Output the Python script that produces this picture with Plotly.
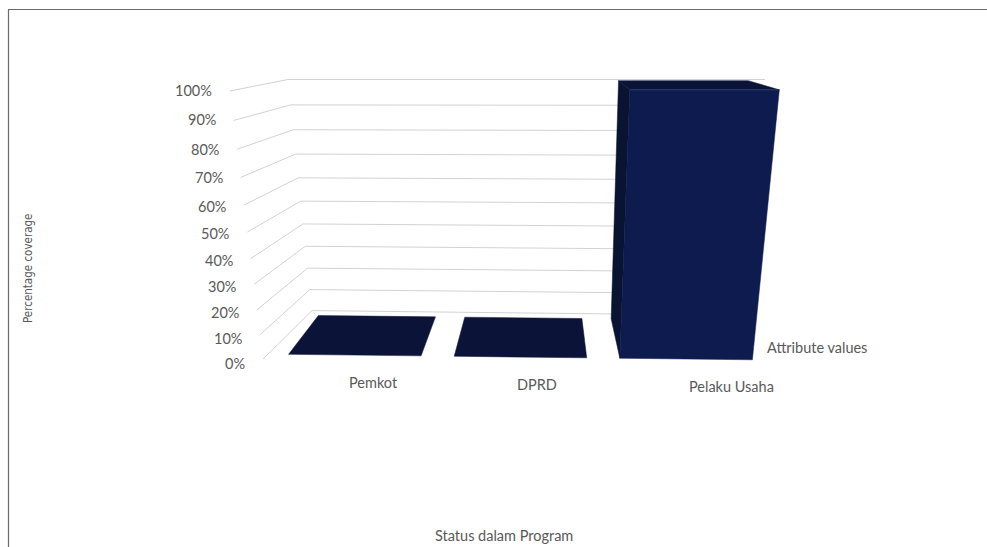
import plotly.graph_objects as go

# ---------------- data ----------------
categories = ["Pemkot", "DPRD", "Pelaku Usaha"]
values = [0, 0, 100]                      # percent coverage
tick_values = [0, 10, 20, 30, 40, 50, 60, 70, 80, 90, 100]
tick_labels = ["0%", "10%", "20%", "30%", "40%", "50%", "60%", "70%", "80%", "90%", "100%"]
series_name = "Attribute values"
x_title = "Status dalam Program"
y_title = "Percentage coverage"
y_max = 100

# ---------------- style / 3-D projection parameters ----------------
W, H = 987, 547
VPX = 545.0                    # depth vanishing x
BACK_L = (312.0, 288.0)        # back wall left edge x (floor, top)
BACK_R = (744.0, 765.0)        # back wall right edge x (floor, top)
BACK_Y = (313.0, 79.5)         # back wall y (floor, top) at mid width
FRONT_Y = (362.0, 91.0)        # front plane y (floor, top) at mid width
SLANT_BACK, SLANT_FRONT = 4.8, 6.0
S_BAR = (1.167, 1.195)         # front/back magnification for bars
S_WALL = (1.21, 1.226)         # front/back magnification for side wall
CURVE = -0.1                   # perspective compression of value axis
SHIFT = -0.01
BAR_FRAC = 0.8
W_FRONT, W_BACK = 0.1, 0.9
LABEL_X = (306.9, 400.3, 139.5)  # category label placement along the front (quadratic in u)

GRID = "#d2d2d2"
TXT = "#595959"
FRONT_C = "#0e1b4e"
SIDE_C = "#091332"
TOP_C = "#0b1338"
EDGE_C = "#2c3c72"
FONT = "Lato, 'Open Sans', sans-serif"
LBL_SIZE = 14.5


def h(v):
    return v * (1 + CURVE) / (1 + CURVE * v)


def back_pt(u, v):
    t = h(v)
    xl = BACK_L[0] + (BACK_L[1] - BACK_L[0]) * t
    xr = BACK_R[0] + (BACK_R[1] - BACK_R[0]) * t
    y0 = BACK_Y[0] + SLANT_BACK * (u - 0.5)
    return xl + u * (xr - xl), y0 + (BACK_Y[1] - y0) * t


def front_pt(u, v, s=S_BAR):
    t = h(v)
    bx, _ = back_pt(u, v)
    sc = s[0] + (s[1] - s[0]) * t
    y0 = FRONT_Y[0] + SLANT_FRONT * (u - 0.5)
    return VPX + sc * (bx - VPX), y0 + (FRONT_Y[1] - y0) * t


def proj(u, w, v, s=S_BAR):
    bx, by = back_pt(u, v)
    fx, fy = front_pt(u, v, s)
    return w * bx + (1 - w) * fx, w * by + (1 - w) * fy


fig = go.Figure()


def add_line(pts, color=GRID, width=1):
    fig.add_trace(go.Scatter(x=[p[0] for p in pts], y=[p[1] for p in pts], mode="lines",
                             line=dict(color=color, width=width), hoverinfo="skip",
                             showlegend=False))


def add_poly(pts, color):
    xs = [p[0] for p in pts] + [pts[0][0]]
    ys = [p[1] for p in pts] + [pts[0][1]]
    fig.add_trace(go.Scatter(x=xs, y=ys, mode="lines", fill="toself", fillcolor=color,
                             line=dict(color=color, width=0.5), hoverinfo="skip",
                             showlegend=False))


# gridlines: back wall + left side wall
for tv in tick_values:
    v = tv / y_max
    add_line([back_pt(0, v), back_pt(1, v)])
    add_line([front_pt(0, v, S_WALL), back_pt(0, v)])

# bars
n = len(categories)
slot = 1.0 / n
for i, val in enumerate(values):
    c = (i + 0.5) * slot + SHIFT
    u0, u1 = c - BAR_FRAC * slot / 2, c + BAR_FRAC * slot / 2
    v = val / y_max
    if v > 0:
        if proj(u0, W_FRONT, 0)[0] > proj(u0, W_BACK, 0)[0]:
            add_poly([proj(u0, W_FRONT, 0), proj(u0, W_BACK, 0),
                      proj(u0, W_BACK, v), proj(u0, W_FRONT, v)], SIDE_C)
        if proj(u1, W_FRONT, 0)[0] < proj(u1, W_BACK, 0)[0]:
            add_poly([proj(u1, W_FRONT, 0), proj(u1, W_BACK, 0),
                      proj(u1, W_BACK, v), proj(u1, W_FRONT, v)], SIDE_C)
        add_poly([proj(u0, W_FRONT, 0), proj(u1, W_FRONT, 0),
                  proj(u1, W_FRONT, v), proj(u0, W_FRONT, v)], FRONT_C)
    add_poly([proj(u0, W_FRONT, v), proj(u1, W_FRONT, v),
              proj(u1, W_BACK, v), proj(u0, W_BACK, v)], TOP_C)
    if v > 0:
        add_line([proj(u0, W_FRONT, v), proj(u1, W_FRONT, v)], EDGE_C, 1)

annotations = []
# value-axis labels
for tv, lab in zip(tick_values, tick_labels):
    v = tv / y_max
    fx, fy = front_pt(0, v, S_WALL)
    annotations.append(dict(x=fx - 16, y=fy + 4 - 5 * v, text=lab, showarrow=False,
                            xanchor="right", yanchor="middle", xref="x", yref="y",
                            font=dict(family=FONT, size=LBL_SIZE, color=TXT)))
# category labels
for i, cat in enumerate(categories):
    c = (i + 0.5) * slot + SHIFT
    _, fy = front_pt(c, 0)
    lx = LABEL_X[0] + LABEL_X[1] * c + LABEL_X[2] * c * c
    annotations.append(dict(x=lx, y=fy + 22.5, text=cat, showarrow=False,
                            xanchor="center", yanchor="middle", xref="x", yref="y",
                            font=dict(family=FONT, size=LBL_SIZE, color=TXT)))
# series (depth) axis label
sx, sy = proj(1, 0.5, 0)
annotations.append(dict(x=sx + 4, y=sy + 7, text=series_name, showarrow=False,
                        xanchor="left", yanchor="middle", xref="x", yref="y",
                        font=dict(family=FONT, size=LBL_SIZE, color=TXT)))
# axis titles
annotations.append(dict(x=503.5, y=535, text=x_title, showarrow=False, xref="x", yref="y",
                        xanchor="center", yanchor="middle",
                        font=dict(family=FONT, size=14.5, color=TXT)))
annotations.append(dict(x=28, y=269, text=y_title, showarrow=False, xref="x", yref="y",
                        textangle=-90, xanchor="center", yanchor="middle",
                        font=dict(family="'Liberation Sans Narrow', 'DejaVu Sans Condensed', Lato, sans-serif",
                                  size=11.5, color=TXT)))

shapes = [
    dict(type="line", xref="x", yref="y", x0=8, x1=W, y0=9.5, y1=9.5,
         line=dict(color="#6b6b6b", width=1.2)),
    dict(type="line", xref="x", yref="y", x0=8.5, x1=8.5, y0=9.5, y1=H,
         line=dict(color="#6b6b6b", width=1.2)),
]

fig.update_layout(
    width=W, height=H,
    margin=dict(l=0, r=0, t=0, b=0),
    paper_bgcolor="white", plot_bgcolor="white",
    xaxis=dict(range=[0, W], visible=False, fixedrange=True),
    yaxis=dict(range=[H, 0], visible=False, fixedrange=True),
    annotations=annotations, shapes=shapes, showlegend=False,
)

fig.write_html("out.html")
